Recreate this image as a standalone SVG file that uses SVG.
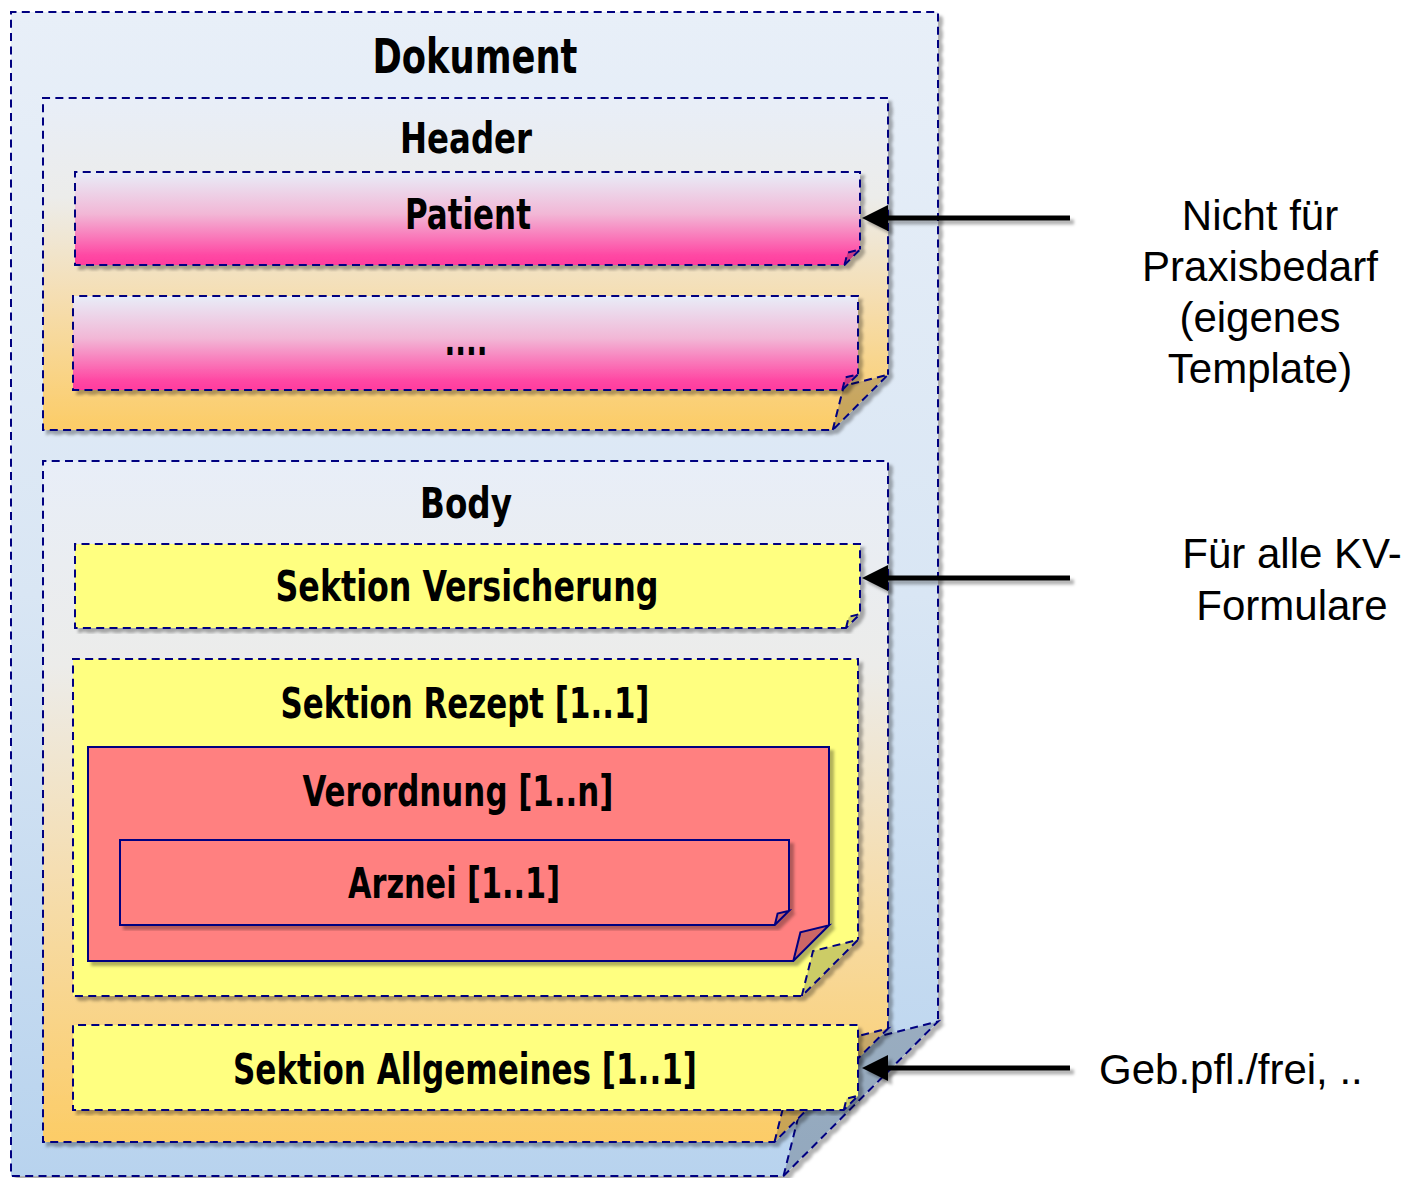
<svg xmlns="http://www.w3.org/2000/svg" width="1407" height="1178" viewBox="0 0 1407 1178">
<defs>
<linearGradient id="gDoc" x1="0" y1="0" x2="0" y2="1">
<stop offset="0" stop-color="#E8EFF8"/>
<stop offset="0.5" stop-color="#D9E6F4"/>
<stop offset="1" stop-color="#B8D3EE"/>
</linearGradient>
<linearGradient id="gSec" x1="0" y1="0" x2="0" y2="1">
<stop offset="0" stop-color="#E8EEF8"/>
<stop offset="0.3" stop-color="#ECECEA"/>
<stop offset="0.6" stop-color="#F5DEB2"/>
<stop offset="1" stop-color="#FCCC66"/>
</linearGradient>
<linearGradient id="gPink" x1="0" y1="0" x2="0" y2="1">
<stop offset="0" stop-color="#E8EDF8"/>
<stop offset="0.45" stop-color="#F2B7D6"/>
<stop offset="0.9" stop-color="#FF47A3"/>
<stop offset="1" stop-color="#FF3D9E"/>
</linearGradient>
<filter id="sh" x="-5%" y="-5%" width="112%" height="112%">
<feDropShadow dx="4" dy="4" stdDeviation="1.8" flood-color="#000" flood-opacity="0.3"/>
</filter>
<marker id="ah" viewBox="0 0 26 26" refX="18" refY="13" markerWidth="26" markerHeight="26" markerUnits="userSpaceOnUse" orient="auto">
<path d="M0,0 L26,13 L0,26 Z" fill="#000"/>
</marker>
<style>
.dash{stroke:#000080;stroke-width:2;stroke-dasharray:8 5.3;stroke-linejoin:miter}
.solid{stroke:#000080;stroke-width:2;stroke-linejoin:miter}
.flap{fill:#000;fill-opacity:0.2;stroke:none}
.yel{fill:#FFFF80}
.red{fill:#FF8080}
.t{font-family:"Liberation Sans Narrow","DejaVu Sans Condensed","Liberation Sans",sans-serif;font-weight:bold;font-size:42px;fill:#000;text-anchor:middle}
.n{font-family:"Liberation Sans",Arial,sans-serif;font-size:42px;fill:#000;text-anchor:middle}
.arr{stroke:#000;stroke-width:5;fill:none}
</style>
</defs>

<g id="dokument">
<g filter="url(#sh)">
<path d="M11,12 L938,12 L938,1021.5 L783.5,1176 L11,1176 Z" fill="url(#gDoc)"/>
<path class="flap" d="M783.5,1176 L814.4,1052.4 L938,1021.5 Z"/>
<path class="dash" fill="none" d="M783.5,1176 L814.4,1052.4 L938,1021.5 L783.5,1176 L11,1176 L11,12 L938,12 L938,1021.5"/>
</g>
<text class="t" x="475" y="73" font-size="48" style="font-size:48px" textLength="205" lengthAdjust="spacingAndGlyphs">Dokument</text>
</g>

<g id="header">
<g filter="url(#sh)">
<path d="M43,98 L888,98 L888,374.7 L832.7,430 L43,430 Z" fill="url(#gSec)"/>
<path class="flap" d="M832.7,430 L843.8,385.8 L888,374.7 Z"/>
<path class="dash" fill="none" d="M832.7,430 L843.8,385.8 L888,374.7 L832.7,430 L43,430 L43,98 L888,98 L888,374.7"/>
</g>
<text class="t" x="466" y="153" textLength="132" lengthAdjust="spacingAndGlyphs">Header</text>
</g>

<g id="patient">
<g filter="url(#sh)">
<path d="M75,172 L860,172 L860,249.5 L844.5,265 L75,265 Z" fill="url(#gPink)"/>
<path class="flap" d="M844.5,265 L847.6,252.6 L860,249.5 Z"/>
<path class="dash" fill="none" d="M844.5,265 L847.6,252.6 L860,249.5 L844.5,265 L75,265 L75,172 L860,172 L860,249.5"/>
</g>
<text class="t" x="468" y="229" textLength="126" lengthAdjust="spacingAndGlyphs">Patient</text>
</g>

<g id="weitere">
<g filter="url(#sh)">
<path d="M73,296 L858,296 L858,374.3 L842.3,390 L73,390 Z" fill="url(#gPink)"/>
<path class="flap" d="M842.3,390 L845.4,377.4 L858,374.3 Z"/>
<path class="dash" fill="none" d="M842.3,390 L845.4,377.4 L858,374.3 L842.3,390 L73,390 L73,296 L858,296 L858,374.3"/>
</g>
<text class="t" x="466" y="355" textLength="43" lengthAdjust="spacingAndGlyphs">....</text>
</g>

<g id="body">
<g filter="url(#sh)">
<path d="M43,461 L888,461 L888,1028.5 L774.5,1142 L43,1142 Z" fill="url(#gSec)"/>
<path class="flap" d="M774.5,1142 L797.2,1051.2 L888,1028.5 Z"/>
<path class="dash" fill="none" d="M774.5,1142 L797.2,1051.2 L888,1028.5 L774.5,1142 L43,1142 L43,461 L888,461 L888,1028.5"/>
</g>
<text class="t" x="466" y="518" textLength="92" lengthAdjust="spacingAndGlyphs">Body</text>
</g>

<g id="sektion-versicherung">
<g filter="url(#sh)">
<path class="yel" d="M75,544 L860,544 L860,614 L846,628 L75,628 Z"/>
<path class="flap" d="M846,628 L848.8,616.8 L860,614 Z"/>
<path class="dash" fill="none" d="M846,628 L848.8,616.8 L860,614 L846,628 L75,628 L75,544 L860,544 L860,614"/>
</g>
<text class="t" x="467" y="601" textLength="383" lengthAdjust="spacingAndGlyphs">Sektion Versicherung</text>
</g>

<g id="sektion-rezept">
<g filter="url(#sh)">
<path class="yel" d="M73,659 L858,659 L858,939.8 L801.8,996 L73,996 Z"/>
<path class="flap" d="M801.8,996 L813,951 L858,939.8 Z"/>
<path class="dash" fill="none" d="M801.8,996 L813,951 L858,939.8 L801.8,996 L73,996 L73,659 L858,659 L858,939.8"/>
</g>
<text class="t" x="465" y="718" textLength="369" lengthAdjust="spacingAndGlyphs">Sektion Rezept [1..1]</text>
</g>

<g id="verordnung">
<g filter="url(#sh)">
<path class="red" d="M88,747 L829,747 L829,925.3 L793.3,961 L88,961 Z"/>
<path class="flap" d="M793.3,961 L800.4,932.4 L829,925.3 Z"/>
<path class="solid" fill="none" d="M793.3,961 L800.4,932.4 L829,925.3 L793.3,961 L88,961 L88,747 L829,747 L829,925.3"/>
</g>
<text class="t" x="458" y="806" textLength="311" lengthAdjust="spacingAndGlyphs">Verordnung [1..n]</text>
</g>

<g id="arznei">
<g filter="url(#sh)">
<path class="red" d="M120,840 L789,840 L789,910.8 L774.8,925 L120,925 Z"/>
<path class="flap" d="M774.8,925 L777.6,913.6 L789,910.8 Z"/>
<path class="solid" fill="none" d="M774.8,925 L777.6,913.6 L789,910.8 L774.8,925 L120,925 L120,840 L789,840 L789,910.8"/>
</g>
<text class="t" x="454" y="898" textLength="212" lengthAdjust="spacingAndGlyphs">Arznei [1..1]</text>
</g>

<g id="sektion-allgemeines">
<g filter="url(#sh)">
<path class="yel" d="M73,1025 L858,1025 L858,1095.8 L843.8,1110 L73,1110 Z"/>
<path class="flap" d="M843.8,1110 L846.6,1098.6 L858,1095.8 Z"/>
<path class="dash" fill="none" d="M843.8,1110 L846.6,1098.6 L858,1095.8 L843.8,1110 L73,1110 L73,1025 L858,1025 L858,1095.8"/>
</g>
<text class="t" x="465" y="1084" textLength="464" lengthAdjust="spacingAndGlyphs">Sektion Allgemeines [1..1]</text>
</g>

<g id="connectors" filter="url(#sh)">
<line class="arr" x1="1070" y1="218" x2="870" y2="218" marker-end="url(#ah)"/>
<line class="arr" x1="1070" y1="578" x2="870" y2="578" marker-end="url(#ah)"/>
<line class="arr" x1="1070" y1="1068" x2="870" y2="1068" marker-end="url(#ah)"/>
</g>

<g id="note-patient">
<text class="n" x="1260" y="230">Nicht für</text>
<text class="n" x="1260" y="281">Praxisbedarf</text>
<text class="n" x="1260" y="332">(eigenes</text>
<text class="n" x="1260" y="383">Template)</text>
</g>
<g id="note-versicherung">
<text class="n" x="1292" y="568">Für alle KV-</text>
<text class="n" x="1292" y="620">Formulare</text>
</g>
<g id="note-allgemeines">
<text class="n" x="1099" y="1084" style="text-anchor:start">Geb.pfl./frei, ..</text>
</g>
</svg>
